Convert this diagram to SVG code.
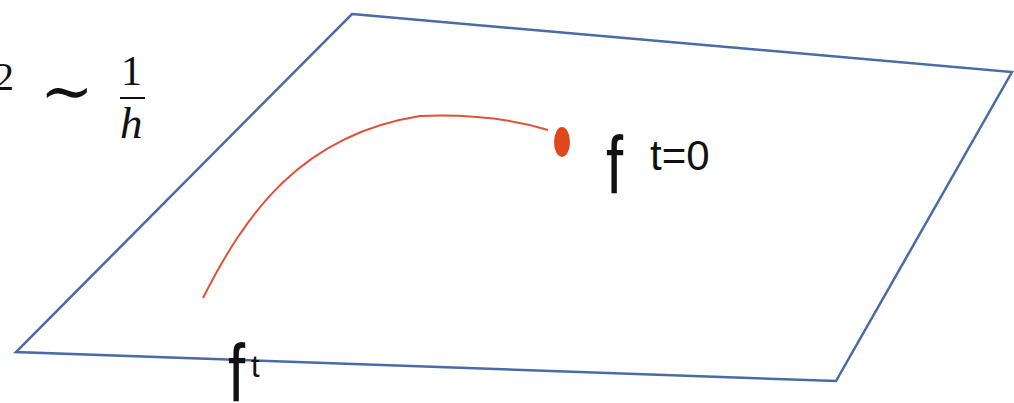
<svg xmlns="http://www.w3.org/2000/svg" width="1014" height="403" viewBox="0 0 1014 403">
<style>
.plane{fill:none;stroke:#4a6aa8;stroke-width:2.5;stroke-linejoin:miter}
.curve{fill:none;stroke:#e0503a;stroke-width:2}
.sans{font-family:"Liberation Sans",Arial,sans-serif;fill:#111}
.serif{font-family:"Liberation Serif","DejaVu Serif",serif;fill:#111}
</style>
<rect width="1014" height="403" fill="#fff"/>
<g id="plane">
<polygon class="plane" points="352,14 1012,72 836,381 16,352"/>
</g>
<g id="formula">
<text class="serif" x="-6" y="90" font-size="40">2</text>
<text x="40" y="113" font-family="DejaVu Serif,serif" font-size="64" fill="#111">∼</text>
<text class="serif" x="121" y="85" font-size="42">1</text>
<line x1="120" y1="98" x2="145" y2="98" stroke="#111" stroke-width="2"/>
<text class="serif" x="120" y="138" font-size="45" font-style="italic">h</text>
</g>
<g id="connectors">
<path class="curve" d="M203,298 C245,215 300,135 420,116 C470,114 515,120 548,130"/>
</g>
<g id="start-point">
<ellipse cx="562" cy="142" rx="8" ry="15" fill="#e0481c"/>
<text class="sans" transform="translate(606,193) scale(1.1,1.45)" font-size="56">f</text>
<text class="sans" x="650" y="170" font-size="42">t=0</text>
</g>
<g id="end-point">
<text class="sans" transform="translate(228,401) scale(1.1,1.45)" font-size="56">f</text>
<text class="sans" x="251" y="377" font-size="31">t</text>
</g>
</svg>
